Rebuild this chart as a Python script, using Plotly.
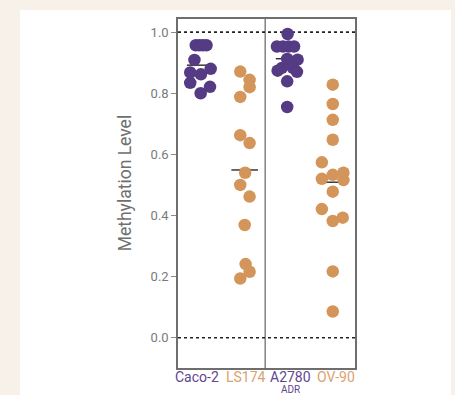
import plotly.graph_objects as go

# ---------------- data ----------------
categories = ["Caco-2", "LS174", "A2780", "OV-90"]
sublabels = ["", "", "ADR", ""]
group_colors = ["#553a84", "#d3955a", "#553a84", "#d3955a"]
label_colors = ["#5f4690", "#dba270", "#5f4690", "#dba270"]

caco2_values = [0.957, 0.957, 0.957, 0.957, 0.909, 0.868, 0.862, 0.880, 0.834, 0.821, 0.800]
caco2_offsets = [-0.10, -0.02, 0.06, 0.14, -0.13, -0.225, 0.015, 0.235, -0.225, 0.22, 0.01]

ls174_values = [0.871, 0.844, 0.820, 0.788, 0.663, 0.637, 0.540, 0.500, 0.462, 0.369, 0.241, 0.216, 0.194]
ls174_offsets = [-0.10, 0.11, 0.11, -0.10, -0.10, 0.11, 0.01, -0.10, 0.11, 0.0, 0.02, 0.11, -0.10]

a2780_values = [0.994, 0.953, 0.953, 0.953, 0.953, 0.912, 0.910, 0.874, 0.883, 0.883, 0.870, 0.839, 0.755]
a2780_offsets = [-0.035, -0.275, -0.14, -0.015, 0.11, -0.045, 0.19, -0.26, -0.165, 0.085, 0.175, -0.045, -0.045]

ov90_values = [0.828, 0.765, 0.713, 0.648, 0.574, 0.520, 0.533, 0.540, 0.516, 0.478, 0.421, 0.382, 0.393, 0.217, 0.086]
ov90_offsets = [-0.02, -0.02, -0.02, -0.02, -0.265, -0.265, -0.02, 0.22, 0.22, -0.02, -0.265, -0.02, 0.205, -0.02, -0.02]

median_values = [0.892, 0.549, 0.913, 0.509]

y_tick_values = [0.0, 0.2, 0.4, 0.6, 0.8, 1.0]
y_tick_labels = ["0.0", "0.2", "0.4", "0.6", "0.8", "1.0"]
reference_levels = [0.0, 1.0]
divider_position = 1.46

groups = [
    (caco2_values, caco2_offsets),
    (ls174_values, ls174_offsets),
    (a2780_values, a2780_offsets),
    (ov90_values, ov90_offsets),
]

# ---------------- figure ----------------
W, H = 455, 395
ml, mr, mt, mb = 178, 100, 19, 27
pw, ph = W - ml - mr, H - mt - mb

def px_to_paper_x(px):
    return (px - ml) / pw

def px_to_paper_y(py):
    return (H - mb - py) / ph

fig = go.Figure()

# median lines (behind the points)
for i, m in enumerate(median_values):
    fig.add_trace(go.Scatter(
        x=[i - 0.3, i + 0.3], y=[m, m], mode="lines",
        line=dict(color="#1a1a1a", width=1.3),
        hoverinfo="skip", showlegend=False))

for i, (vals, offs) in enumerate(groups):
    fig.add_trace(go.Scatter(
        x=[i + o for o in offs], y=vals, mode="markers",
        marker=dict(size=12.5, color=group_colors[i], line=dict(width=0)),
        showlegend=False, name=categories[i]))

# category labels as annotations (main line + optional small subline)
annotations = [dict(text="Methylation Level", xref="paper", yref="paper",
                    x=px_to_paper_x(125), y=px_to_paper_y(183.3),
                    textangle=-90, showarrow=False,
                    font=dict(family="Roboto", size=17.5, color="#6f6f6f"),
                    xanchor="center", yanchor="middle")]
label_shift = [-0.08, 0.02, 0.04, 0.05]
for i, (c, s, col) in enumerate(zip(categories, sublabels, label_colors)):
    annotations.append(dict(text=c, xref="x", yref="paper", x=i + label_shift[i],
                            y=px_to_paper_y(376.5), showarrow=False,
                            xanchor="center", yanchor="middle", borderpad=0,
                            font=dict(family="Roboto", size=14, color=col)))
    if s:
        annotations.append(dict(text=s, xref="x", yref="paper", x=i + 0.03,
                                y=px_to_paper_y(389.3), showarrow=False,
                                xanchor="center", yanchor="middle", borderpad=0,
                                font=dict(family="Roboto", size=10, color=col)))

shapes = [
    # white panel on beige background
    dict(type="rect", xref="paper", yref="paper",
         x0=px_to_paper_x(20), x1=px_to_paper_x(451),
         y0=px_to_paper_y(400), y1=px_to_paper_y(10),
         fillcolor="white", line=dict(width=0), layer="below"),
    dict(type="line", xref="x", yref="paper", x0=divider_position, x1=divider_position,
         y0=0, y1=1, line=dict(color="#6e6e6e", width=1.3), layer="below"),
]
for lv in reference_levels:
    shapes.append(dict(type="line", xref="paper", yref="y", x0=0, x1=1, y0=lv, y1=lv,
                       line=dict(color="#222222", width=1.6, dash="dot"), layer="below"))

fig.update_layout(
    width=W, height=H,
    margin=dict(l=ml, r=mr, t=mt, b=mb, pad=0),
    paper_bgcolor="#f8f1ea",
    plot_bgcolor="rgba(0,0,0,0)",
    font=dict(family="Roboto", size=12, color="#7a7a7a"),
    shapes=shapes,
    annotations=annotations,
    xaxis=dict(range=[-0.5, 3.48], tickmode="array", tickvals=list(range(len(categories))),
               showticklabels=False, ticks="", showgrid=False, zeroline=False,
               showline=True, mirror=True, linecolor="#6e6e6e", linewidth=1.5,
               automargin=False),
    yaxis=dict(range=[-0.099, 1.043], tickmode="array", tickvals=y_tick_values,
               ticktext=y_tick_labels, ticks="outside", ticklen=5, tickwidth=1,
               tickcolor="#8a8a8a", showgrid=False, zeroline=False,
               showline=True, mirror=True, linecolor="#6e6e6e", linewidth=1.5,
               automargin=False,
               tickfont=dict(family="Roboto", size=13, color="#7a7a7a")),
)

fig.write_html("out.html")
